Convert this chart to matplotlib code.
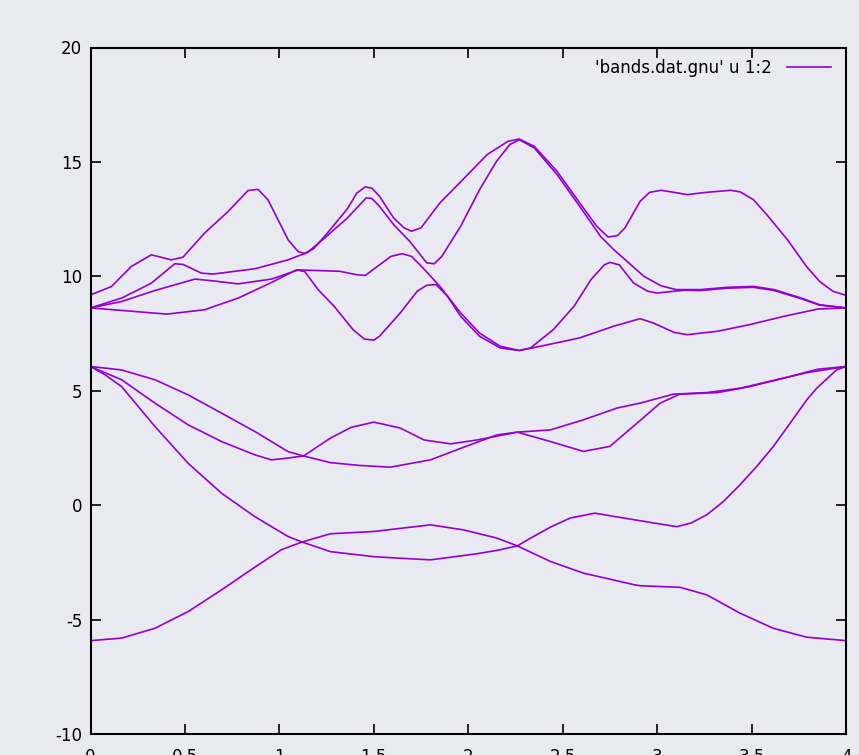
import matplotlib
matplotlib.use("Agg")
import matplotlib.pyplot as plt

# valence bands (k, E)
k_v1 = [0, 0.165, 0.341, 0.517, 0.694, 0.87, 1.01, 1.12, 1.27, 1.50, 1.62, 1.80, 2.04, 2.15, 2.26, 2.435, 2.61, 2.88, 2.91, 3.122, 3.263, 3.439, 3.615, 3.792, 4.0]
e_v1 = [-5.92, -5.81, -5.38, -4.65, -3.70, -2.71, -1.95, -1.61, -2.03, -2.25, -2.31, -2.39, -2.13, -1.98, -1.78, -2.46, -2.97, -3.48, -3.52, -3.59, -3.92, -4.72, -5.38, -5.77, -5.92]

k_v2 = [0, 0.077, 0.165, 0.341, 0.517, 0.694, 0.87, 1.046, 1.12, 1.27, 1.50, 1.80, 1.975, 2.152, 2.26, 2.33, 2.435, 2.54, 2.67, 2.88, 3.104, 3.18, 3.263, 3.351, 3.439, 3.527, 3.615, 3.704, 3.792, 3.845, 3.95, 4.0]
e_v2 = [6.06, 5.70, 5.18, 3.44, 1.83, 0.52, -0.50, -1.37, -1.61, -1.25, -1.15, -0.86, -1.08, -1.44, -1.78, -1.44, -0.96, -0.56, -0.35, -0.64, -0.94, -0.78, -0.42, 0.16, 0.89, 1.69, 2.56, 3.58, 4.60, 5.11, 5.91, 6.06]

k_v3 = [0, 0.165, 0.341, 0.517, 0.694, 0.87, 0.958, 1.046, 1.128, 1.27, 1.42, 1.587, 1.80, 1.975, 2.152, 2.26, 2.435, 2.61, 2.75, 2.91, 3.016, 3.12, 3.32, 3.49, 3.67, 3.85, 4.0]
e_v3 = [6.06, 5.48, 4.46, 3.51, 2.78, 2.20, 1.98, 2.06, 2.15, 1.86, 1.74, 1.66, 1.98, 2.53, 3.07, 3.19, 2.78, 2.35, 2.57, 3.70, 4.46, 4.85, 4.92, 5.18, 5.55, 5.94, 6.06]

k_v4 = [0, 0.165, 0.341, 0.517, 0.694, 0.87, 1.046, 1.128, 1.27, 1.38, 1.50, 1.64, 1.766, 1.907, 2.048, 2.26, 2.435, 2.61, 2.79, 2.91, 3.086, 3.263, 3.439, 3.615, 3.792, 4.0]
e_v4 = [6.06, 5.91, 5.48, 4.82, 4.02, 3.22, 2.34, 2.15, 2.93, 3.40, 3.63, 3.37, 2.85, 2.68, 2.85, 3.19, 3.29, 3.73, 4.25, 4.46, 4.85, 4.92, 5.11, 5.45, 5.79, 6.06]

# conduction bands (k, E)
k_c1 = [0, 0.165, 0.405, 0.604, 0.782, 0.958, 1.09, 1.134, 1.206, 1.29, 1.39, 1.45, 1.50, 1.53, 1.64, 1.73, 1.78, 1.83, 1.89, 1.96, 2.06, 2.17, 2.27, 2.38, 2.59, 2.77, 2.91, 2.98, 3.09, 3.16, 3.32, 3.49, 3.67, 3.85, 4.0]
e_c1 = [8.62, 8.51, 8.35, 8.54, 9.05, 9.73, 10.28, 10.21, 9.41, 8.69, 7.67, 7.26, 7.21, 7.38, 8.40, 9.35, 9.61, 9.64, 9.13, 8.25, 7.38, 6.87, 6.76, 6.94, 7.31, 7.82, 8.15, 7.96, 7.55, 7.45, 7.60, 7.89, 8.25, 8.57, 8.62]

k_c2 = [0, 0.165, 0.341, 0.553, 0.65, 0.782, 0.958, 1.099, 1.18, 1.32, 1.41, 1.455, 1.53, 1.59, 1.65, 1.70, 1.76, 1.85, 1.96, 2.06, 2.17, 2.27, 2.33, 2.45, 2.56, 2.65, 2.72, 2.75, 2.80, 2.875, 2.95, 3.0, 3.14, 3.23, 3.37, 3.51, 3.62, 3.76, 3.86, 4.0]
e_c2 = [8.62, 8.90, 9.38, 9.88, 9.80, 9.67, 9.88, 10.28, 10.26, 10.22, 10.07, 10.04, 10.5, 10.87, 10.99, 10.87, 10.37, 9.56, 8.40, 7.52, 6.94, 6.76, 6.87, 7.67, 8.69, 9.86, 10.5, 10.61, 10.5, 9.71, 9.35, 9.27, 9.39, 9.38, 9.48, 9.52, 9.38, 9.03, 8.74, 8.62]

k_c3 = [0, 0.165, 0.322, 0.446, 0.49, 0.587, 0.65, 0.87, 1.046, 1.15, 1.25, 1.36, 1.46, 1.49, 1.53, 1.605, 1.69, 1.78, 1.82, 1.86, 1.96, 2.06, 2.15, 2.22, 2.27, 2.35, 2.47, 2.59, 2.70, 2.77, 2.84, 2.93, 3.02, 3.10, 3.23, 3.37, 3.51, 3.62, 3.76, 3.86, 4.0]
e_c3 = [8.62, 9.05, 9.70, 10.55, 10.52, 10.14, 10.10, 10.33, 10.72, 11.05, 11.75, 12.55, 13.43, 13.40, 13.06, 12.26, 11.53, 10.59, 10.55, 10.87, 12.19, 13.79, 15.03, 15.76, 15.97, 15.61, 14.45, 13.06, 11.75, 11.17, 10.66, 10.0, 9.59, 9.42, 9.42, 9.52, 9.56, 9.42, 9.06, 8.76, 8.62]

k_c4 = [0, 0.11, 0.216, 0.322, 0.428, 0.49, 0.604, 0.728, 0.834, 0.887, 0.94, 1.046, 1.099, 1.134, 1.18, 1.25, 1.36, 1.41, 1.455, 1.49, 1.53, 1.605, 1.66, 1.70, 1.75, 1.85, 1.98, 2.10, 2.21, 2.27, 2.35, 2.47, 2.59, 2.68, 2.74, 2.79, 2.83, 2.91, 2.96, 3.02, 3.09, 3.16, 3.26, 3.39, 3.44, 3.51, 3.58, 3.69, 3.79, 3.86, 3.93, 4.0]
e_c4 = [9.19, 9.55, 10.43, 10.94, 10.72, 10.84, 11.89, 12.83, 13.75, 13.80, 13.34, 11.60, 11.08, 11.0, 11.2, 11.85, 12.95, 13.64, 13.91, 13.85, 13.5, 12.55, 12.12, 11.97, 12.12, 13.21, 14.30, 15.32, 15.90, 16.0, 15.68, 14.59, 13.21, 12.19, 11.72, 11.78, 12.12, 13.28, 13.67, 13.76, 13.67, 13.57, 13.67, 13.76, 13.69, 13.35, 12.70, 11.60, 10.44, 9.78, 9.35, 9.17]

bands = [(k_v1, e_v1), (k_v2, e_v2), (k_v3, e_v3), (k_v4, e_v4),
         (k_c1, e_c1), (k_c2, e_c2), (k_c3, e_c3), (k_c4, e_c4)]

x_ticks = [0, 0.5, 1, 1.5, 2, 2.5, 3, 3.5, 4]
x_labels = ["0", "0.5", "1", "1.5", "2", "2.5", "3", "3.5", "4"]
y_ticks = [-10, -5, 0, 5, 10, 15, 20]
y_labels = ["-10", "-5", "0", "5", "10", "15", "20"]

bg = "#e9e9f2"
color = "#9400d3"

plt.rcParams['font.family'] = ['DejaVu Sans Condensed', 'Liberation Sans Narrow', 'DejaVu Sans']

fig = plt.figure(figsize=(8.59, 7.55), dpi=100, facecolor=bg)
ax = fig.add_axes([90.5 / 859, 21 / 755, 755.5 / 859, 686.5 / 755])
ax.set_facecolor(bg)

for i, (k, e) in enumerate(bands):
    ax.plot(k, e, color=color, lw=1.2, label="'bands.dat.gnu' u 1:2" if i == 0 else None)

ax.set_xlim(0, 4)
ax.set_ylim(-10, 20)
ax.set_xticks(x_ticks)
ax.set_xticklabels(x_labels)
ax.set_yticks(y_ticks)
ax.set_yticklabels(y_labels)
ax.tick_params(direction='in', length=7, width=1.2, top=True, right=True,
               labelsize=12, colors='black')
ax.tick_params(axis='x', pad=10)
ax.tick_params(axis='y', pad=6)
for s in ax.spines.values():
    s.set_linewidth(1.5)
    s.set_color('black')

leg = ax.legend(loc='upper right', frameon=False, markerfirst=False,
                fontsize=12, handlelength=2.6, handletextpad=0.9,
                borderaxespad=0.3, bbox_to_anchor=(0.995, 1.0))

fig.savefig("out.png", dpi=100, facecolor=bg)
